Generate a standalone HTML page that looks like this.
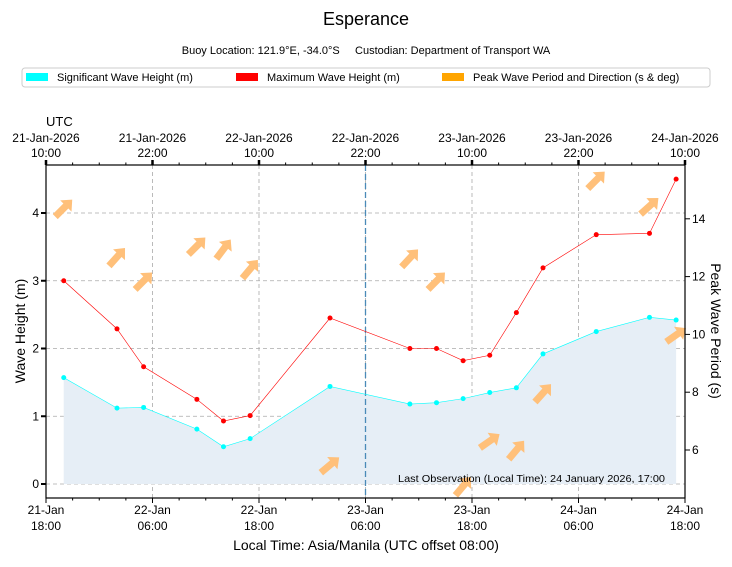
<!DOCTYPE html>
<html><head><meta charset="utf-8"><style>
body{margin:0;background:#fff;font-family:"Liberation Sans",sans-serif}
svg text{font-family:"Liberation Sans","DejaVu Sans",sans-serif}
</style></head><body>
<svg id="c" width="732" height="562" xmlns="http://www.w3.org/2000/svg">
<text x="366" y="25" font-size="18" text-anchor="middle">Esperance</text>
<text x="366" y="54" font-size="11" text-anchor="middle">Buoy Location: 121.9°E, -34.0°S&#160;&#160;&#160;&#160; Custodian: Department of Transport WA</text>
<g>
<rect x="22" y="68" width="688" height="19" rx="3" fill="#fff" stroke="#ccc"/>
<g><rect x="26" y="73" width="22" height="8" fill="#00ffff"/><text x="57" y="81" font-size="11">Significant Wave Height (m)</text></g>
<g><rect x="236" y="73" width="22" height="8" fill="#ff0000"/><text x="267" y="81" font-size="11">Maximum Wave Height (m)</text></g>
<g><rect x="442" y="73" width="22" height="8" fill="#ffa500"/><text x="473" y="81" font-size="11">Peak Wave Period and Direction (s &amp; deg)</text></g>
</g>
<text x="46" y="126" font-size="13">UTC</text>
<g id="plot"></g>
<text x="366" y="550" font-size="14" text-anchor="middle">Local Time: Asia/Manila (UTC offset 08:00)</text>
<text transform="translate(25,331) rotate(-90)" font-size="14" text-anchor="middle">Wave Height (m)</text>
<text transform="translate(711,331) rotate(90)" font-size="14" text-anchor="middle">Peak Wave Period (s)</text>
</svg>
<script>
// hours since 21-Jan 18:00 local
const hours=[2,8,11,17,20,23,32,41,44,47,50,53,56,62,68,71];
const hs=[1.57,1.12,1.13,0.81,0.55,0.67,1.44,1.18,1.2,1.26,1.35,1.42,1.92,2.25,2.46,2.42];
const hmax=[3.0,2.29,1.73,1.25,0.93,1.01,2.45,2.0,2.0,1.82,1.9,2.53,3.19,3.68,3.7,4.5];
const periods=[14.37,12.68,11.85,13.06,12.95,12.26,5.48,12.64,11.85,4.75,6.31,6.0,7.97,15.34,14.44,9.98];
const arrowAngles=[45,48,45,45,53,50,40,47,45,50,35,50,48,45,42,35];
const leftTicks=[0,1,2,3,4];
const rightTicks=[6,8,10,12,14];
const bottomTicks=["21-Jan\n18:00","22-Jan\n06:00","22-Jan\n18:00","23-Jan\n06:00","23-Jan\n18:00","24-Jan\n06:00","24-Jan\n18:00"];
const topTicks=["21-Jan-2026\n10:00","21-Jan-2026\n22:00","22-Jan-2026\n10:00","22-Jan-2026\n22:00","23-Jan-2026\n10:00","23-Jan-2026\n22:00","24-Jan-2026\n10:00"];
const obsLine=36;

const L=46,R=685,T=165,B=498;
const X=h=>L+h*(R-L)/72;
const Y=v=>484-v*67.75;
const Y2=p=>450-(p-6)*28.9;
const NS="http://www.w3.org/2000/svg";
const g=document.getElementById('plot');
function mk(t,a,p){const e=document.createElementNS(NS,t);for(const k in a)e.setAttribute(k,a[k]);(p||g).appendChild(e);return e;}
// grid
for(let i=0;i<7;i++){const x=X(i*12);const l=mk('line',{x1:x,x2:x,y1:T,y2:B,stroke:'#aaa','stroke-dasharray':'4,3','stroke-width':0.8});
}
leftTicks.forEach(v=>{const l=mk('line',{x1:L,x2:R,y1:Y(v),y2:Y(v),stroke:'#aaa','stroke-dasharray':'4,3','stroke-width':0.8});
});
// area
let d='M'+X(hours[0])+','+Y(0);hours.forEach((h,i)=>d+=' L'+X(h)+','+Y(hs[i]));d+=' L'+X(hours[hours.length-1])+','+Y(0)+'Z';
const ar=mk('path',{d:d,fill:'#e6eef6'});
// obs line
const ol=mk('line',{x1:X(obsLine),x2:X(obsLine),y1:T,y2:B,stroke:'#4a8ab8','stroke-dasharray':'6,3','stroke-width':1.3});

// lines
function series(vals,color,name){
 const pl=mk('polyline',{points:hours.map((h,i)=>X(h)+','+Y(vals[i])).join(' '),fill:'none',stroke:color,'stroke-width':0.6});
 
 hours.forEach((h,i)=>{const c=mk('circle',{cx:X(h),cy:Y(vals[i]),r:2.5,fill:color});
 });
}
series(hs,'#00ffff','hs');
series(hmax,'#ff0000','hmax');
// arrows
hours.forEach((h,i)=>{
 const cx=X(h),cy=Y2(periods[i]);
 const a=mk('path',{d:'M-12,-3.5 L3,-3.5 L3,-8 L12,0 L3,8 L3,3.5 L-12,3.5 Z',fill:'#ffc07a',transform:`translate(${cx},${cy}) rotate(${-arrowAngles[i]})`});
 
});
const an=mk('text',{x:665,y:482,'font-size':10.5,'text-anchor':'end',textLength:267,lengthAdjust:'spacingAndGlyphs'});
an.textContent='Last Observation (Local Time): 24 January 2026, 17:00';

// frame
const fr=mk('rect',{x:L,y:T,width:R-L,height:B-T,fill:'none',stroke:'#000','stroke-width':1.2});

// ticks
for(let h=0;h<=72;h+=3){const x=X(h);const big=h%12==0;
 mk('line',{x1:x,x2:x,y1:B,y2:B+(big?5:2.5),stroke:'#000'});
 mk('line',{x1:x,x2:x,y1:T,y2:T-(big?5:2.5),stroke:'#000','stroke-width':big?2.5:1});}
bottomTicks.forEach((s,i)=>{const x=X(i*12);const p=s.split('\n');
 const t=mk('text',{x:x,y:514,'font-size':12,'text-anchor':'middle'});t.textContent=p[0];
 
 mk('text',{x:x,y:530,'font-size':12,'text-anchor':'middle'}).textContent=p[1];});
topTicks.forEach((s,i)=>{const x=X(i*12);const p=s.split('\n');
 const t=mk('text',{x:x,y:142,'font-size':12,'text-anchor':'middle'});t.textContent=p[0];
 
 mk('text',{x:x,y:157,'font-size':12,'text-anchor':'middle'}).textContent=p[1];});
leftTicks.forEach(v=>{mk('line',{x1:L-5,x2:L,y1:Y(v),y2:Y(v),stroke:'#000','stroke-width':2});
 const t=mk('text',{x:L-7,y:Y(v)+4,'font-size':12,'text-anchor':'end'});t.textContent=v;
 });
rightTicks.forEach(v=>{mk('line',{x1:R,x2:R+5,y1:Y2(v),y2:Y2(v),stroke:'#000'});
 const t=mk('text',{x:R+7,y:Y2(v)+4,'font-size':12});t.textContent=v;
 });
</script>
</body></html>
